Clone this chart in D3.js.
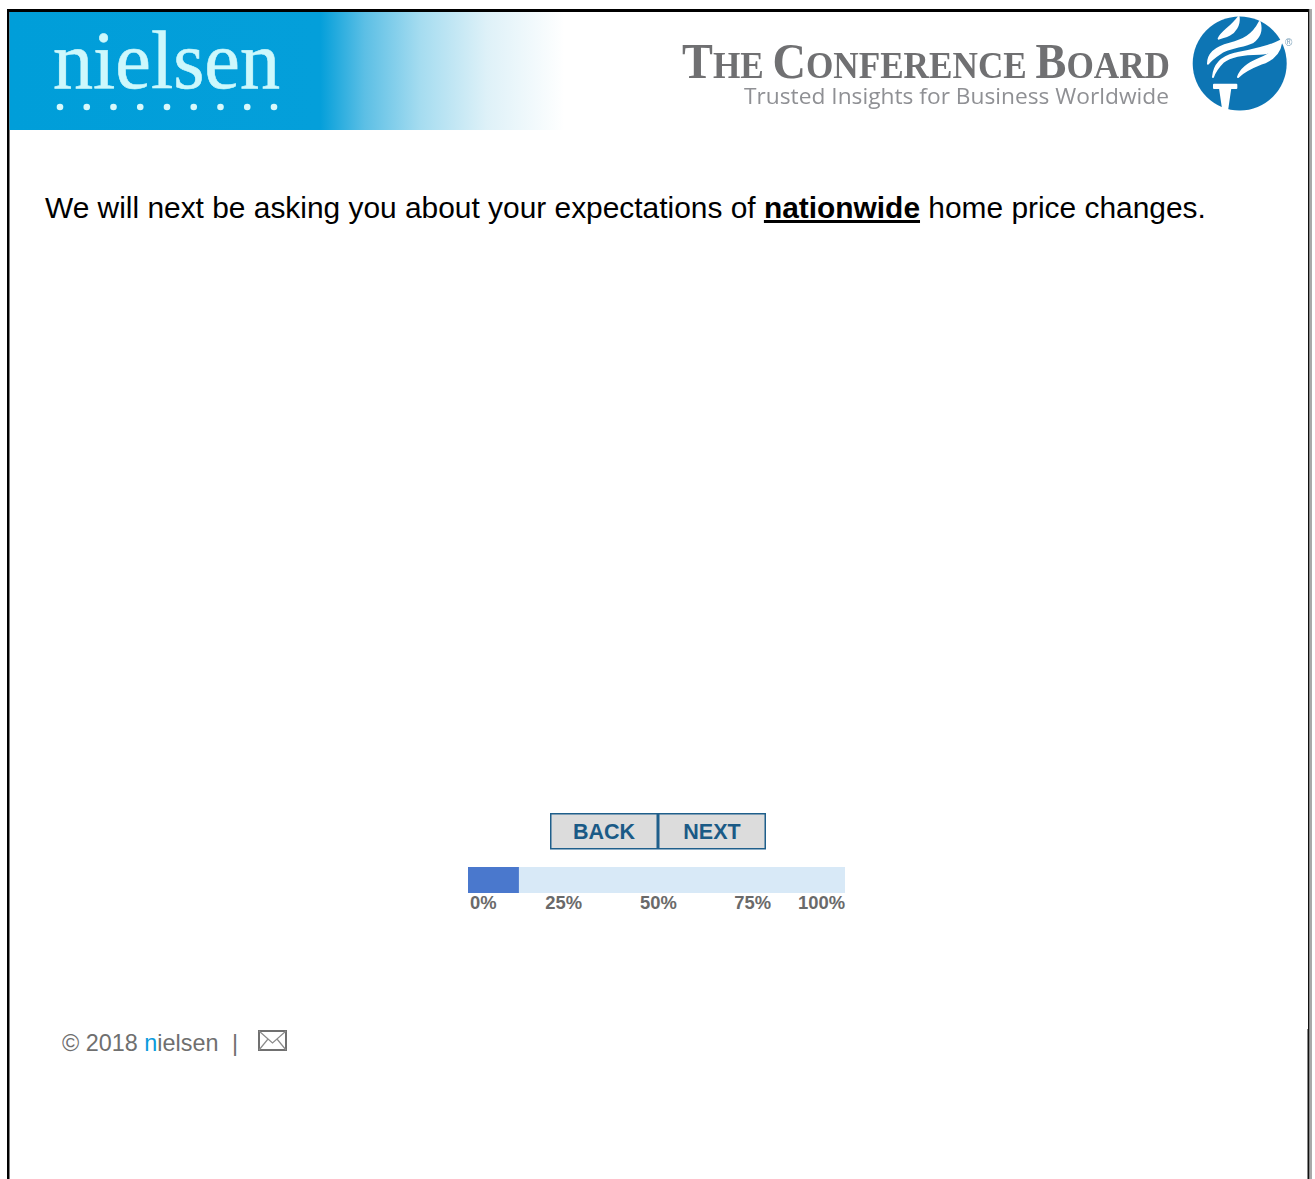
<!DOCTYPE html>
<html><head><meta charset="utf-8">
<script src="https://d3js.org/d3.v7.min.js"></script>
<style>html,body{margin:0;padding:0;background:#fff;overflow:hidden}svg{display:block}text{font-family:"Liberation Sans",Arial,sans-serif}</style>
</head><body><svg id="c" width="1315" height="1179"></svg>
<script>
const progressValue = [13.5];
const progressTicks = [0, 25, 50, 75, 100];
const tickLabels = ["0%", "25%", "50%", "75%", "100%"];
const tickNudges = [2, 1.5, 2, 2, 0];
const buttonLabels = ["BACK", "NEXT"];
const logoDots = [0, 1, 2, 3, 4, 5, 6, 7, 8];

const svg = d3.select("#c");
const defs = svg.append("defs");
const grad = defs.append("linearGradient").attr("id", "hdr");
[[0, "#009ed9"], [0.56, "#049fda"], [0.64, "#5cbfe5"], [0.74, "#a5dcf0"], [0.86, "#def1f8"], [1, "#ffffff"]]
  .forEach(s => grad.append("stop").attr("offset", s[0]).attr("stop-color", s[1]));
defs.append("filter").attr("id", "soft").append("feGaussianBlur").attr("stdDeviation", 0.7);

// page frame
svg.append("rect").attr("x", 7).attr("y", 9).attr("width", 1301).attr("height", 3).attr("fill", "#000");
svg.append("rect").attr("x", 7).attr("y", 9).attr("width", 2.5).attr("height", 1170).attr("fill", "#000");
svg.append("rect").attr("x", 1308).attr("y", 9).attr("width", 1.5).attr("height", 1170).attr("fill", "#111");
svg.append("rect").attr("x", 1310.5).attr("y", 9).attr("width", 1).attr("height", 1170).attr("fill", "#555");
svg.append("rect").attr("x", 1307).attr("y", 1029).attr("width", 1).attr("height", 150).attr("fill", "#888");

// nielsen banner
svg.append("rect").attr("x", 9.5).attr("y", 12).attr("width", 555).attr("height", 118).attr("fill", "url(#hdr)");
const logoL = svg.append("g").attr("filter", "url(#soft)");
logoL.append("text").attr("x", 53).attr("y", 88).attr("font-size", 83).attr("textLength", 227)
  .attr("lengthAdjust", "spacingAndGlyphs").style("font-family", "'Liberation Serif',serif")
  .attr("fill", "#cdf8fc").attr("stroke", "#cdf8fc").attr("stroke-width", 0.6).text("nielsen");
const dotX = d3.scaleLinear().domain([0, 8]).range([60, 274]);
logoL.selectAll("circle").data(logoDots).join("circle")
  .attr("cx", d => dotX(d)).attr("cy", 107).attr("r", 3.3).attr("fill", "#d8f8fb");

// conference board logo
const logoR = svg.append("g").attr("filter", "url(#soft)");
const cb = logoR.append("text").attr("x", 682).attr("y", 78).attr("fill", "#6f7072").attr("font-weight", 700)
  .attr("textLength", 488).attr("lengthAdjust", "spacingAndGlyphs").style("font-family", "'Liberation Serif',serif");
[["T", 50], ["HE ", 38], ["C", 50], ["ONFERENCE ", 38], ["B", 50], ["OARD", 38]]
  .forEach(p => cb.append("tspan").attr("font-size", p[1]).text(p[0]));
logoR.append("text").attr("x", 744).attr("y", 104).attr("font-size", 22).attr("font-weight", 400).attr("fill", "#8f9094")
  .attr("textLength", 425).attr("lengthAdjust", "spacingAndGlyphs").style("font-family", "'Open Sans',sans-serif")
  .text("Trusted Insights for Business Worldwide");
logoR.append("circle").attr("cx", 1239.7).attr("cy", 63.5).attr("r", 47).attr("fill", "#0f75b4");
const torch = logoR.append("g").attr("transform", "translate(1188,12) scale(0.3333)")
  .attr("fill", "#fff").attr("stroke", "#fff").attr("stroke-width", 6).attr("stroke-linejoin", "round");
const flames = [
  "M92,80C100,60 125,50 152,15C155,40 140,60 125,68C112,75 100,76 92,80Z",
  "M60,155C60,125 85,105 125,95C165,85 195,70 215,30C222,55 215,75 195,90C165,105 120,105 95,125C80,135 68,145 60,155Z",
  "M75,195C78,160 100,135 140,125C190,115 245,105 280,85C270,115 240,125 215,125C170,125 130,130 105,150C90,165 80,180 75,195Z",
  "M150,195C160,165 190,150 215,140C245,128 265,110 280,90C275,125 250,145 220,155C195,165 170,175 150,195Z",
  "M78,218H145V228H127L118,290H105L96,228H78Z"
];
torch.selectAll("path").data(flames).join("path").attr("d", d => d);
logoR.append("text").attr("x", 1285).attr("y", 46).attr("font-size", 10).attr("fill", "#7a9fb8").text("®");

// prompt
const prompt = svg.append("text").attr("x", 45).attr("y", 218).attr("font-size", 29.9).attr("fill", "#000");
prompt.append("tspan").text("We will next be asking you about your expectations of ");
prompt.append("tspan").attr("font-weight", 700).attr("text-decoration", "underline").text("nationwide");
prompt.append("tspan").text(" home price changes.");

// buttons
const btn = d3.scaleBand().domain(buttonLabels).range([550, 766]);
const bg = svg.selectAll("g.btn").data(buttonLabels).join("g").attr("class", "btn");
bg.append("rect").attr("x", d => btn(d) + 0.75).attr("y", 813.75).attr("width", btn.bandwidth() - 1.5).attr("height", 35)
  .attr("fill", "#dcdcdc").attr("stroke", "#1f5f8b").attr("stroke-width", 1.5);
bg.append("text").attr("x", d => btn(d) + btn.bandwidth() / 2).attr("y", 838.5).attr("text-anchor", "middle")
  .attr("font-size", 21.5).attr("font-weight", 700).attr("fill", "#1a5a86").text(d => d);

// progress bar
const x = d3.scaleLinear().domain([0, 100]).range([468, 845]);
svg.append("rect").attr("x", x(0)).attr("y", 867).attr("width", x(100) - x(0)).attr("height", 26).attr("fill", "#d8e9f7");
svg.selectAll("rect.fill").data(progressValue).join("rect").attr("class", "fill")
  .attr("x", x(0)).attr("y", 867).attr("width", d => x(d) - x(0)).attr("height", 26).attr("fill", "#4a78cd");
svg.selectAll("text.tick").data(progressTicks).join("text").attr("class", "tick")
  .attr("x", (d, i) => x(d) + tickNudges[i])
  .attr("y", 909).attr("font-size", 18.4).attr("font-weight", 700).attr("fill", "#6a6a6a")
  .attr("text-anchor", (d, i) => i === 0 ? "start" : i === progressTicks.length - 1 ? "end" : "middle")
  .text((d, i) => tickLabels[i]);

// footer
const foot = svg.append("text").attr("x", 62).attr("y", 1051).attr("font-size", 23.4).attr("fill", "#6f6f6f");
foot.append("tspan").text("© 2018 ");
foot.append("tspan").attr("fill", "#0a9bdc").text("n");
foot.append("tspan").text("ielsen");
svg.append("text").attr("x", 232).attr("y", 1051).attr("font-size", 23.4).attr("fill", "#6f6f6f").text("|");
svg.append("rect").attr("x", 259).attr("y", 1031).attr("width", 27).attr("height", 19)
  .attr("fill", "#fff").attr("stroke", "#707070").attr("stroke-width", 2);
svg.append("path").attr("d", "M259,1031L272.5,1043L286,1031M259,1050L268,1039M286,1050L277,1039")
  .attr("fill", "none").attr("stroke", "#8a8a8a").attr("stroke-width", 1.2);
</script></body></html>
